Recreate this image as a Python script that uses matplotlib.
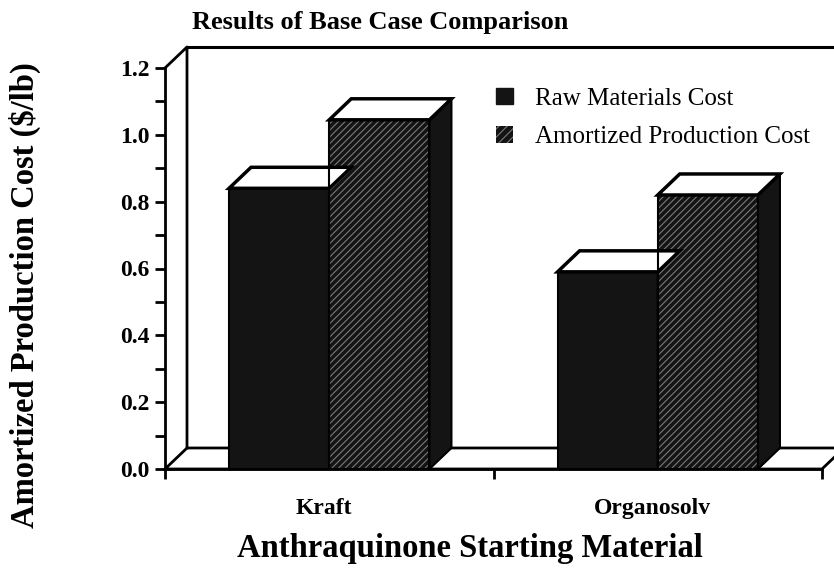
import numpy as np
import matplotlib.pyplot as plt
from matplotlib.patches import Polygon, Patch

categories = ['Kraft', 'Organosolv']
raw_cost = [0.84, 0.59]
amortized_cost = [1.045, 0.82]
series_names = ['Raw Materials Cost', 'Amortized Production Cost']
yticks = [0.0, 0.2, 0.4, 0.6, 0.8, 1.0, 1.2]


def box(ax, x0, w, h, dx, dy, face, hatch=None, hatch_col='#7a7a7a'):
    # front face through the bar call, then top and side as polygons
    ax.bar(x0, h, width=w, align='edge', color=face, edgecolor=hatch_col if hatch else face,
           hatch=hatch, linewidth=0, zorder=3)
    ax.add_patch(Polygon([[x0, 0], [x0 + w, 0], [x0 + w, h], [x0, h]], closed=True,
                         fill=False, edgecolor='black', linewidth=1.5, zorder=4))
    side = Polygon([[x0 + w, 0], [x0 + w + dx, dy], [x0 + w + dx, h + dy], [x0 + w, h]],
                   closed=True, facecolor=face, edgecolor='black', linewidth=1.5, zorder=3,
                   clip_on=False)
    ax.add_patch(side)
    top = Polygon([[x0, h], [x0 + w, h], [x0 + w + dx, h + dy], [x0 + dx, h + dy]],
                  closed=True, facecolor='white', edgecolor='black', linewidth=2.5, zorder=4,
                  clip_on=False)
    ax.add_patch(top)


def main():
    plt.rcParams['font.family'] = ['Liberation Serif', 'DejaVu Serif']
    plt.rcParams['hatch.linewidth'] = 0.8

    fig = plt.figure(figsize=(8.34, 5.71), dpi=100)
    ax = fig.add_axes([165 / 834, (571 - 469) / 571, 657 / 834, 401 / 571])
    ax.set_xlim(-0.5, 1.5)
    ax.set_ylim(0, 1.2)

    # depth of the pseudo-3D box in data units
    dx = 22 / 328.5
    dy = 21 / 334.0
    ymax = 1.2

    # floor
    ax.add_patch(Polygon([[-0.5, 0], [1.5, 0], [1.5 + dx, dy], [-0.5 + dx, dy]], closed=True,
                         facecolor='white', edgecolor='black', linewidth=2, zorder=1,
                         clip_on=False))
    # side wall and back wall
    ax.plot([-0.5, -0.5 + dx, -0.5 + dx], [ymax, ymax + dy, dy], color='black', lw=2,
            clip_on=False, zorder=1)
    ax.plot([-0.5 + dx, 1.5 + dx], [ymax + dy, ymax + dy], color='black', lw=2.2,
            clip_on=False, zorder=1)
    ax.plot([1.5 + dx, 1.5 + dx], [dy, ymax + dy], color='black', lw=2,
            clip_on=False, zorder=1)

    w = 0.305
    x = np.arange(len(categories))
    for i in range(len(categories)):
        box(ax, x[i] - w, w, raw_cost[i], dx, dy, '#141414')
        box(ax, x[i], w, amortized_cost[i], dx, dy, '#141414', hatch='/' * 5)

    for s in ['top', 'right']:
        ax.spines[s].set_visible(False)
    ax.spines['left'].set_linewidth(2)
    ax.spines['bottom'].set_linewidth(2)

    ax.set_yticks(yticks)
    ax.set_yticklabels(['%.1f' % v for v in yticks], fontsize=17, fontweight='bold')
    ax.set_yticks(np.arange(0.1, 1.2, 0.2), minor=True)
    ax.tick_params(axis='y', which='both', direction='out', length=7, width=2, pad=4)

    ax.set_xticks([-0.5, 0.5, 1.5])
    ax.set_xticklabels([])
    ax.set_xticks(x - 0.015, minor=True)
    ax.set_xticklabels(categories, minor=True, fontsize=17, fontweight='bold')
    ax.tick_params(axis='x', which='major', direction='out', length=7, width=2)
    ax.tick_params(axis='x', which='minor', length=0, pad=21)

    handles = [Patch(facecolor='#141414', edgecolor='#141414'),
               Patch(facecolor='#141414', edgecolor='#7a7a7a', hatch='/' * 4, linewidth=0)]
    ax.legend(handles, series_names, loc='upper left', bbox_to_anchor=(0.47, 1.007),
              frameon=False, fontsize=18, handlelength=0.65, handleheight=0.65,
              handletextpad=0.9, labelspacing=0.65)

    fig.text(380 / 834, 1 - 22 / 571, 'Results of Base Case Comparison', ha='center',
             va='center', fontsize=19, fontweight='bold')
    fig.text(25 / 834, 1 - 295 / 571, 'Amortized Production Cost ($/lb)', ha='center',
             va='center', rotation=90, fontsize=23.5, fontweight='bold')
    fig.text(470 / 834, 1 - 549 / 571, 'Anthraquinone Starting Material', ha='center',
             va='center', fontsize=23.5, fontweight='bold')

    fig.savefig('out.png', dpi=100)


if __name__ == '__main__':
    main()
